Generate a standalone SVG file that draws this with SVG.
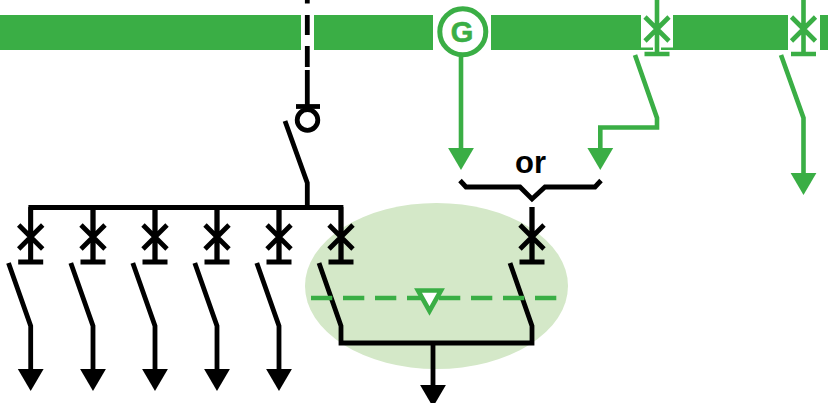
<svg xmlns="http://www.w3.org/2000/svg" width="828" height="403" viewBox="0 0 828 403">
<style>
.k{fill:none;stroke:#000;stroke-width:4.8}
.g{fill:none;stroke:#3aae45;stroke-width:4.6}
.bar{fill:#3aae45}
.ah{fill:#000}
.ag{fill:#3aae45}
</style>
<defs>
<path id="brk" d="M-12-12 12 12M-12 12 12-12M0-30V25M-12.500 25H12.500"/>
<path id="tip" d="M-12.900 0H12.900L0 22Z"/>
</defs>
<rect width="828" height="403" fill="#fff"/>
<g id="busbar">
<rect class="bar" x="0" y="15" width="301" height="35"/>
<rect class="bar" x="314" y="15" width="119" height="35"/>
<rect class="bar" x="491" y="15" width="182" height="35"/>
<rect class="bar" x="673" y="15" width="115" height="35"/>
<rect class="bar" x="820" y="15" width="8" height="35"/>
<rect x="641" y="15" width="32" height="32.500" fill="#fff"/>
<rect x="653" y="47" width="8" height="3" fill="#fff"/>
</g>
<g id="zone"><ellipse cx="436.500" cy="286" rx="131.500" ry="83" fill="#d4e8c8"/></g>
<g id="connectors">
<path class="k" d="M307.300 0V3.500M307.300 15V35M307.300 46V67M307.300 70V106"/>
<path class="k" d="M285 121 307.300 183V207.500M28.400 207.500H341V262M30.700 207.500V262M93 207.500V262M155 207.500V262M217 207.500V262M279 207.500V262"/>
<path class="k" d="M8.500 263 30.700 326V370M70.800 263 93 326V370M132.800 263 155 326V370M194.800 263 217 326V370M256.800 263 279 326V370"/>
<path class="k" d="M319 263 341 326V343H532V326L510 263M433 343V386"/>
<path class="k" d="M532 207V262"/>
<path class="k" d="M460 180.500 466 187H520L532 199 545 187H595L601 180.500"/>
<path class="g" d="M461 55V150"/>
<path class="g" d="M635 55 657 118V127.500H600.300V150"/>
<path class="g" d="M781 55 803.500 118V175"/>
<path d="M311 298H557" fill="none" stroke="#3aae45" stroke-width="4.600" stroke-dasharray="21.300 10.700"/>
</g>
<g id="breakers-black">
<g class="k"><use href="#brk" x="30.700" y="237"/><use href="#brk" x="93" y="237"/><use href="#brk" x="155" y="237"/><use href="#brk" x="217" y="237"/><use href="#brk" x="279" y="237"/><use href="#brk" x="341" y="237"/><use href="#brk" x="532" y="237"/></g>
</g>
<g id="disconnector">
<path class="k" d="M296 106.500H320"/>
<circle class="k" cx="307.500" cy="120" r="10.300"/>
</g>
<g id="arrows-black">
<use href="#tip" class="ah" x="30.700" y="369"/><use href="#tip" class="ah" x="93" y="369"/><use href="#tip" class="ah" x="155" y="369"/><use href="#tip" class="ah" x="217" y="369"/><use href="#tip" class="ah" x="279" y="369"/><use href="#tip" class="ah" x="433" y="385"/>
</g>
<g id="arrows-green">
<use href="#tip" class="ag" x="461" y="148"/><use href="#tip" class="ag" x="600.300" y="148"/><use href="#tip" class="ag" x="803.500" y="173"/>
</g>
<g id="breakers-green">
<g class="g"><use href="#brk" x="657" y="29"/><use href="#brk" x="803.500" y="29"/></g>
</g>
<g id="generator">
<circle cx="462.800" cy="31.800" r="23" fill="#fff" stroke="#3aae45" stroke-width="5"/>
<text x="462" y="42.300" text-anchor="middle" font-family="Liberation Sans, Arial, sans-serif" font-weight="700" font-size="29" fill="#3aae45" stroke="#3aae45" stroke-width="0.600">G</text>
</g>
<g id="trip">
<path d="M418 290.500H441L429.500 311Z" fill="#fff" stroke="#3aae45" stroke-width="4.600"/>
</g>
<g id="label"><text x="530.500" y="172.500" text-anchor="middle" font-family="Liberation Sans, Arial, sans-serif" font-weight="700" font-size="31" fill="#000">or</text></g>
</svg>
